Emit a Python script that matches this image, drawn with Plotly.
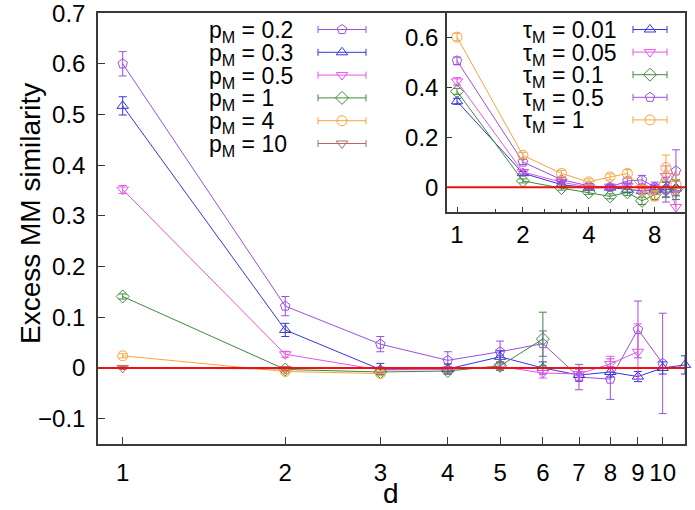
import numpy as np
import plotly.graph_objects as go

# ---------------- data ----------------
main_d_02 = [1, 2, 3, 4, 5, 6, 7, 8, 9, 10]
main_v_02 = [0.600, 0.122, 0.047, 0.015, 0.032, 0.048, -0.018, -0.022, 0.076, 0.009]
main_e_02 = [0.024, 0.019, 0.015, 0.017, 0.021, 0.025, 0.025, 0.040, 0.056, 0.099]

main_d_03 = [1, 2, 3, 4, 5, 6, 7, 8, 9, 10, 11]
main_v_03 = [0.517, 0.075, -0.003, -0.002, 0.022, 0.000, -0.014, -0.008, -0.017, 0.000, 0.006]
main_e_03 = [0.018, 0.013, 0.012, 0.010, 0.012, 0.012, 0.012, 0.010, 0.010, 0.012, 0.018]

main_d_05 = [1, 2, 3, 4, 5, 6, 7, 8, 9]
main_v_05 = [0.352, 0.027, -0.004, -0.003, 0.003, -0.010, -0.012, 0.008, 0.032]
main_e_05 = [0.008, 0.006, 0.006, 0.006, 0.008, 0.010, 0.012, 0.015, 0.055]

main_d_1 = [1, 2, 3, 4, 5, 6]
main_v_1 = [0.141, -0.003, -0.008, -0.006, 0.004, 0.057]
main_e_1 = [0.005, 0.004, 0.005, 0.006, 0.008, 0.053]

main_d_4 = [1, 2, 3]
main_v_4 = [0.024, -0.007, -0.011]
main_e_4 = [0.004, 0.004, 0.004]

main_d_10 = [1, 2]
main_v_10 = [0.000, -0.002]
main_e_10 = [0.003, 0.003]

main_labels = ["p<sub>M</sub> = 0.2", "p<sub>M</sub> = 0.3", "p<sub>M</sub> = 0.5",
               "p<sub>M</sub> = 1", "p<sub>M</sub> = 4", "p<sub>M</sub> = 10"]

inset_d = [1, 2, 3, 4, 5, 6, 7, 8, 9, 10]
inset_v_001 = [0.345, 0.056, 0.010, -0.003, -0.002, -0.010, -0.015, -0.010, -0.010, -0.005]
inset_e_001 = [0.012, 0.008, 0.008, 0.008, 0.010, 0.012, 0.015, 0.018, 0.030, 0.030]
inset_v_005 = [0.425, 0.061, 0.020, 0.000, 0.002, 0.005, -0.005, -0.008, 0.045, -0.080]
inset_e_005 = [0.015, 0.008, 0.008, 0.008, 0.010, 0.012, 0.015, 0.020, 0.040, 0.060]
inset_v_01 = [0.385, 0.025, -0.004, -0.021, -0.037, -0.021, -0.055, -0.030, -0.010, -0.010]
inset_e_01 = [0.012, 0.008, 0.008, 0.008, 0.010, 0.012, 0.015, 0.020, 0.030, 0.040]
inset_v_05 = [0.508, 0.101, 0.030, 0.005, 0.000, 0.025, 0.029, 0.000, -0.010, 0.065]
inset_e_05 = [0.015, 0.010, 0.008, 0.010, 0.010, 0.012, 0.018, 0.020, 0.050, 0.085]
inset_v_1 = [0.603, 0.128, 0.055, 0.021, 0.041, 0.055, -0.010, -0.035, 0.079, 0.012]
inset_e_1 = [0.015, 0.012, 0.012, 0.012, 0.012, 0.015, 0.018, 0.020, 0.050, 0.040]

inset_labels = ["τ<sub>M</sub> = 0.01", "τ<sub>M</sub> = 0.05", "τ<sub>M</sub> = 0.1",
                "τ<sub>M</sub> = 0.5", "τ<sub>M</sub> = 1"]

main_xticks = [1, 2, 3, 4, 5, 6, 7, 8, 9, 10]
main_yticks = [-0.1, 0, 0.1, 0.2, 0.3, 0.4, 0.5, 0.6, 0.7]
main_yticktext = ["−0.1", "0", "0.1", "0.2", "0.3", "0.4", "0.5", "0.6", "0.7"]
inset_xticks = [1, 2, 4, 8]
inset_xminor = [1.5, 2.5, 3, 3.5, 5, 6, 7]
inset_yticks = [0, 0.2, 0.4, 0.6]

# ---------------- styles ----------------
PURPLE = "#9b4fdc"
BLUE = "#3535dd"
MAGENTA = "#e655e6"
GREEN = "#3d8b3d"
ORANGE = "#f5a640"
BROWN = "#b36a6a"
FONT = "Liberation Sans"

W, H = 695, 510
L, R, T, B = 98, 685, 13, 444  # plot area in px


def px_x(px):
    return (px - L) / (R - L)


def px_y(py):
    return (B - py) / (B - T)


fig = go.Figure()

main_series = [
    (main_d_02, main_v_02, main_e_02, PURPLE, "pentagon-open"),
    (main_d_03, main_v_03, main_e_03, BLUE, "triangle-up-open"),
    (main_d_05, main_v_05, main_e_05, MAGENTA, "triangle-down-open"),
    (main_d_1, main_v_1, main_e_1, GREEN, "diamond-open"),
    (main_d_4, main_v_4, main_e_4, ORANGE, "circle-open"),
    (main_d_10, main_v_10, main_e_10, BROWN, "triangle-down-open"),
]
inset_series = [
    (inset_d, inset_v_001, inset_e_001, BLUE, "triangle-up-open"),
    (inset_d, inset_v_005, inset_e_005, MAGENTA, "triangle-down-open"),
    (inset_d, inset_v_01, inset_e_01, GREEN, "diamond-open"),
    (inset_d, inset_v_05, inset_e_05, PURPLE, "pentagon-open"),
    (inset_d, inset_v_1, inset_e_1, ORANGE, "circle-open"),
]


def add_series(d, v, e, col, sym, xa, ya, clip):
    fig.add_trace(go.Scatter(
        x=d, y=v, mode="lines+markers", xaxis=xa, yaxis=ya,
        line=dict(color=col, width=1),
        marker=dict(symbol=sym, size=10, color=col, line=dict(width=1, color=col)),
        error_y=dict(type="data", array=e, color=col, thickness=1, width=4),
        showlegend=False, cliponaxis=clip, hoverinfo="skip"))


for s in main_series:
    add_series(*s, "x", "y", False)
for s in inset_series:
    add_series(*s, "x2", "y2", True)

# ---------------- gnuplot-style keys (text + sample) ----------------
annotations = []


def add_key(labels, series, text_x, row_y0, row_dy, samp_x, samp_half, xa, ya):
    for i, (lab, s) in enumerate(zip(labels, series)):
        yy = row_y0 + row_dy * i
        annotations.append(dict(
            text=lab, x=px_x(text_x), y=px_y(yy + 2),
            xref="paper", yref="paper", xanchor="left", yanchor="middle",
            showarrow=False, font=dict(family=FONT, size=23, color="black")))
        fig.add_trace(go.Scatter(
            x=[samp_x], y=[yy], mode="markers", xaxis=xa, yaxis=ya,
            marker=dict(symbol=s[4], size=10, color=s[3], line=dict(width=1, color=s[3])),
            error_x=dict(type="constant", value=samp_half, color=s[3], thickness=1, width=3.5),
            showlegend=False, cliponaxis=False, hoverinfo="skip"))


add_key(main_labels, main_series, 207, 29.5, 22.8, 342, 24, "x3", "y3")
add_key(inset_labels, inset_series, 521, 29.5, 22.6, 650, 17, "x4", "y4")

annotations.append(dict(text="Excess MM similarity", x=px_x(30), y=px_y(214),
                        xref="paper", yref="paper",
                        textangle=-90, showarrow=False, xanchor="center", yanchor="middle",
                        font=dict(family=FONT, size=28, color="black")))
annotations.append(dict(text="d", x=px_x(391), y=px_y(493), xref="paper", yref="paper",
                        showarrow=False, xanchor="center", yanchor="middle",
                        font=dict(family=FONT, size=28, color="black")))

AX = dict(showgrid=False, zeroline=False, showline=True, mirror=True, automargin=False,
          linecolor="#3a3a3a", linewidth=1.5, ticks="inside", tickcolor="#3a3a3a",
          tickwidth=1, tickfont=dict(family=FONT, size=24, color="black"),
          ticklabeloverflow="allow")

ix0 = px_x(447)
iy0 = px_y(212)

fig.update_layout(
    width=W, height=H, margin=dict(l=L, r=W - R, t=T, b=H - B, autoexpand=False),
    paper_bgcolor="white", plot_bgcolor="white",
    font=dict(family=FONT, color="black"),
    xaxis=dict(AX, type="log", range=[np.log10(0.9), np.log10(11)], domain=[0, 1],
               tickmode="array", tickvals=main_xticks, ticktext=[str(t) for t in main_xticks],
               ticklen=7, anchor="y", ticklabelstandoff=6),
    yaxis=dict(AX, range=[-0.15, 0.7002], domain=[0, 1], tickmode="array",
               tickvals=main_yticks, ticktext=main_yticktext, ticklen=7, anchor="x",
               ticklabelstandoff=6),
    xaxis2=dict(AX, type="log", range=[np.log10(0.9), np.log10(11)], domain=[ix0, 1],
                tickmode="array", tickvals=inset_xticks, ticktext=[str(t) for t in inset_xticks],
                ticklen=5, anchor="y2",
                minor=dict(tickmode="array", tickvals=inset_xminor, ticks="inside",
                           ticklen=3, tickcolor="#3a3a3a", showgrid=False)),
    yaxis2=dict(AX, range=[-0.1, 0.7], domain=[iy0, 1], tickmode="array",
                tickvals=inset_yticks, ticktext=["0", "0.2", "0.4", "0.6"],
                ticklen=5, anchor="x2", ticklabelstandoff=2),
    xaxis3=dict(range=[L, R], domain=[0, 1], overlaying="x", anchor="y3", visible=False,
                fixedrange=True),
    yaxis3=dict(range=[B, T], domain=[0, 1], overlaying="y", anchor="x3", visible=False,
                fixedrange=True),
    xaxis4=dict(range=[447, R], domain=[ix0, 1], overlaying="x2", anchor="y4", visible=False,
                fixedrange=True),
    yaxis4=dict(range=[212, T], domain=[iy0, 1], overlaying="y2", anchor="x4", visible=False,
                fixedrange=True),
    annotations=annotations,
    shapes=[
        dict(type="line", xref="x domain", yref="y", x0=0, x1=1, y0=0, y1=0,
             line=dict(color="#ee1111", width=2)),
        dict(type="line", xref="x2 domain", yref="y2", x0=0, x1=1, y0=0, y1=0,
             line=dict(color="#ee1111", width=2)),
    ],
)

fig.write_html("out.html", config=dict(displayModeBar=False),
               post_script="document.body.style.margin='0px';document.body.style.overflow='hidden';")
